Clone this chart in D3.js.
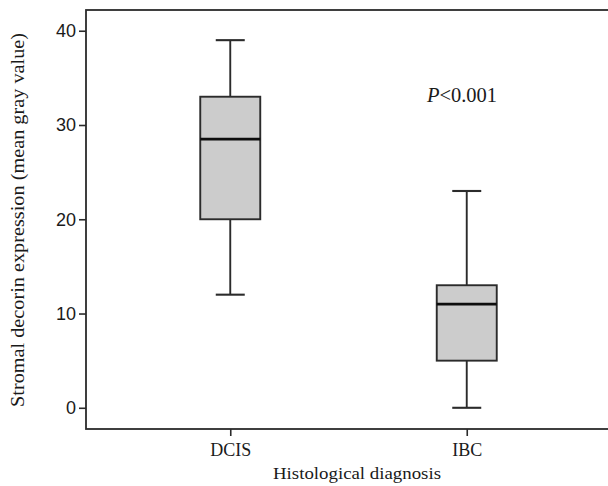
<!DOCTYPE html>
<html>
<head>
<meta charset="utf-8">
<script src="https://cdn.jsdelivr.net/npm/d3@7"></script>
<style>
  body { margin: 0; background: #fff; }
  svg { display: block; }
</style>
</head>
<body>
<div id="chart"></div>
<script>
// Chart data.
var groups = ["DCIS", "IBC"];
var whiskerLow = [12, 0];
var boxLow = [20, 5];
var medians = [28.5, 11];
var boxHigh = [33, 13];
var whiskerHigh = [39, 23];
var yTicks = [0, 10, 20, 30, 40];

var width = 608;
var height = 486;

// Plot frame (right side runs off the picture).
var frame = { left: 86, top: 10, right: 640, bottom: 429 };

var svg = d3.select("#chart").append("svg")
    .attr("width", width)
    .attr("height", height);

var x = d3.scalePoint()
    .domain(groups)
    .range([frame.left, 611])
    .padding(0.61);

var y = d3.scaleLinear()
    .domain([-2.25, 42.2])
    .range([frame.bottom, frame.top]);

var boxW = 60;
var capW = 29;
var ink = "#2b2b2b";
var serif = "'Liberation Serif', 'Times New Roman', serif";

// Frame
svg.append("rect")
    .attr("x", frame.left)
    .attr("y", frame.top)
    .attr("width", frame.right - frame.left)
    .attr("height", frame.bottom - frame.top)
    .attr("fill", "none")
    .attr("stroke", ink)
    .attr("stroke-width", 1.8);

// Y axis ticks and labels
var yAxis = svg.append("g")
    .attr("transform", "translate(" + frame.left + ",0)")
    .call(d3.axisLeft(y).tickValues(yTicks).tickSize(7).tickPadding(3));
yAxis.select(".domain").remove();
yAxis.selectAll("line").attr("stroke", ink).attr("stroke-width", 1.6);
yAxis.selectAll("text")
    .attr("fill", "#1a1a1a")
    .style("font-family", "'Liberation Sans', Arial, sans-serif")
    .style("font-size", "18px");

// X axis ticks and labels
var xAxis = svg.append("g")
    .attr("transform", "translate(0," + frame.bottom + ")")
    .call(d3.axisBottom(x).tickSize(7).tickPadding(7));
xAxis.select(".domain").remove();
xAxis.selectAll("line").attr("stroke", ink).attr("stroke-width", 1.6);
xAxis.selectAll("text")
    .attr("fill", "#1a1a1a")
    .style("font-family", serif)
    .style("font-size", "18px");

// Boxes
var box = svg.selectAll(".box")
    .data(groups)
    .enter().append("g")
    .attr("class", "box");

// whisker stems
box.append("line")
    .attr("x1", function(d) { return x(d); })
    .attr("x2", function(d) { return x(d); })
    .attr("y1", function(d, i) { return y(whiskerHigh[i]); })
    .attr("y2", function(d, i) { return y(boxHigh[i]); })
    .attr("stroke", ink).attr("stroke-width", 1.9);
box.append("line")
    .attr("x1", function(d) { return x(d); })
    .attr("x2", function(d) { return x(d); })
    .attr("y1", function(d, i) { return y(boxLow[i]); })
    .attr("y2", function(d, i) { return y(whiskerLow[i]); })
    .attr("stroke", ink).attr("stroke-width", 1.9);

// caps
box.append("line")
    .attr("x1", function(d) { return x(d) - capW / 2; })
    .attr("x2", function(d) { return x(d) + capW / 2; })
    .attr("y1", function(d, i) { return y(whiskerHigh[i]); })
    .attr("y2", function(d, i) { return y(whiskerHigh[i]); })
    .attr("stroke", ink).attr("stroke-width", 2.1);
box.append("line")
    .attr("x1", function(d) { return x(d) - capW / 2; })
    .attr("x2", function(d) { return x(d) + capW / 2; })
    .attr("y1", function(d, i) { return y(whiskerLow[i]); })
    .attr("y2", function(d, i) { return y(whiskerLow[i]); })
    .attr("stroke", ink).attr("stroke-width", 2.1);

// box body
box.append("rect")
    .attr("x", function(d) { return x(d) - boxW / 2; })
    .attr("y", function(d, i) { return y(boxHigh[i]); })
    .attr("width", boxW)
    .attr("height", function(d, i) { return y(boxLow[i]) - y(boxHigh[i]); })
    .attr("fill", "#cccccc")
    .attr("stroke", ink)
    .attr("stroke-width", 1.9);

// median
box.append("line")
    .attr("x1", function(d) { return x(d) - boxW / 2; })
    .attr("x2", function(d) { return x(d) + boxW / 2; })
    .attr("y1", function(d, i) { return y(medians[i]); })
    .attr("y2", function(d, i) { return y(medians[i]); })
    .attr("stroke", "#0d0d0d").attr("stroke-width", 2.6);

// P value annotation
var pText = svg.append("text")
    .attr("x", 462)
    .attr("y", 102)
    .attr("text-anchor", "middle")
    .attr("fill", "#1a1a1a")
    .style("font-family", serif)
    .style("font-size", "20.5px");
pText.append("tspan").style("font-style", "italic").text("P");
pText.append("tspan").text("<0.001");

// Axis titles
svg.append("text")
    .attr("x", 357)
    .attr("y", 479)
    .attr("text-anchor", "middle")
    .attr("fill", "#1a1a1a")
    .attr("textLength", 168)
    .attr("lengthAdjust", "spacingAndGlyphs")
    .style("font-family", serif)
    .style("font-size", "17.5px")
    .text("Histological diagnosis");

svg.append("text")
    .attr("transform", "translate(24," + 220 + ") rotate(-90)")
    .attr("text-anchor", "middle")
    .attr("fill", "#1a1a1a")
    .attr("textLength", 374)
    .attr("lengthAdjust", "spacingAndGlyphs")
    .style("font-family", serif)
    .style("font-size", "18px")
    .text("Stromal decorin expression (mean gray value)");
</script>
</body>
</html>
